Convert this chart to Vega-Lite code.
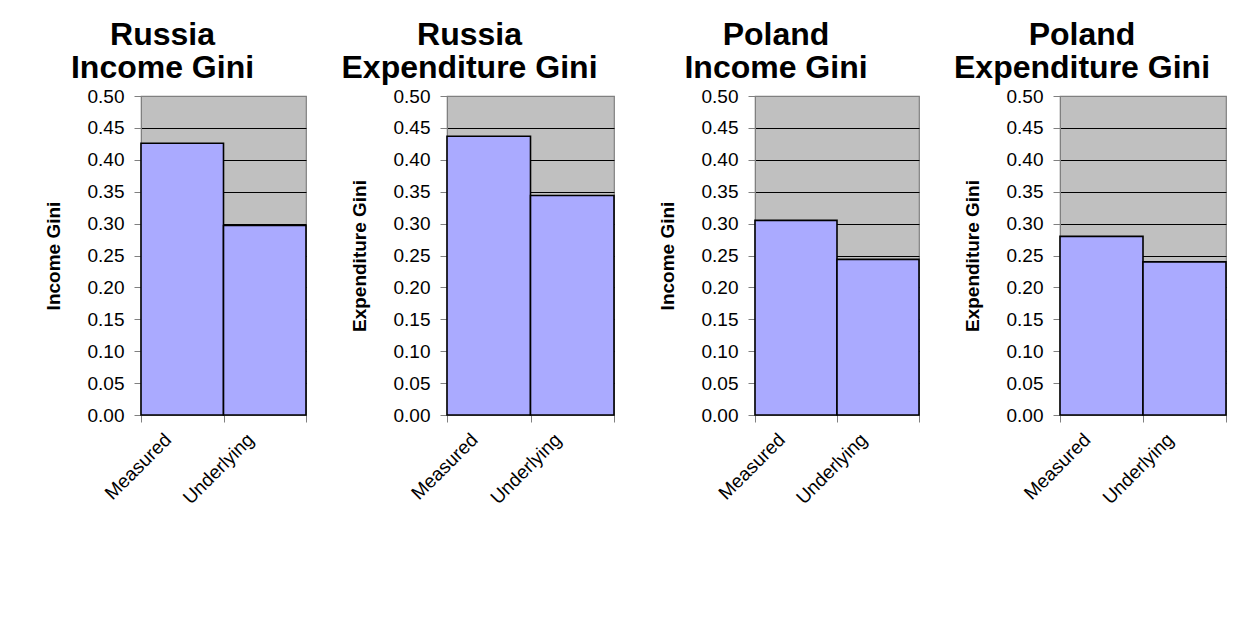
{
  "$schema": "https://vega.github.io/schema/vega-lite/v6.json",
  "padding": {"left": 43, "top": 18, "right": 0, "bottom": 0},
  "background": "white",
  "datasets": {
    "gini": [
      {"panel": "ru_inc", "measure": "Measured", "gini": 0.426},
      {"panel": "ru_inc", "measure": "Underlying", "gini": 0.297},
      {"panel": "ru_exp", "measure": "Measured", "gini": 0.437},
      {"panel": "ru_exp", "measure": "Underlying", "gini": 0.344},
      {"panel": "pl_inc", "measure": "Measured", "gini": 0.305},
      {"panel": "pl_inc", "measure": "Underlying", "gini": 0.244},
      {"panel": "pl_exp", "measure": "Measured", "gini": 0.28},
      {"panel": "pl_exp", "measure": "Underlying", "gini": 0.24}
    ]
  },
  "data": {"name": "gini"},
  "bounds": "flush",
  "spacing": 141,
  "hconcat": [
    {
      "title": {"text": ["Russia", "Income Gini"]},
      "width": 165,
      "height": 319,
      "transform": [{"filter": "datum.panel === 'ru_inc'"}],
      "mark": {"type": "bar", "fill": "#AAAAFF", "stroke": "black", "strokeWidth": 1.6},
      "encoding": {
        "x": {"field": "measure", "type": "nominal", "title": null},
        "y": {"field": "gini", "type": "quantitative", "title": "Income Gini", "scale": {"domain": [0, 0.5], "nice": false}}
      }
    },
    {
      "title": {"text": ["Russia", "Expenditure Gini"]},
      "width": 167,
      "height": 319,
      "transform": [{"filter": "datum.panel === 'ru_exp'"}],
      "mark": {"type": "bar", "fill": "#AAAAFF", "stroke": "black", "strokeWidth": 1.6},
      "encoding": {
        "x": {"field": "measure", "type": "nominal", "title": null},
        "y": {"field": "gini", "type": "quantitative", "title": "Expenditure Gini", "scale": {"domain": [0, 0.5], "nice": false}}
      }
    },
    {
      "title": {"text": ["Poland", "Income Gini"]},
      "width": 164,
      "height": 319,
      "transform": [{"filter": "datum.panel === 'pl_inc'"}],
      "mark": {"type": "bar", "fill": "#AAAAFF", "stroke": "black", "strokeWidth": 1.6},
      "encoding": {
        "x": {"field": "measure", "type": "nominal", "title": null},
        "y": {"field": "gini", "type": "quantitative", "title": "Income Gini", "scale": {"domain": [0, 0.5], "nice": false}}
      }
    },
    {
      "title": {"text": ["Poland", "Expenditure Gini"]},
      "width": 166,
      "height": 319,
      "transform": [{"filter": "datum.panel === 'pl_exp'"}],
      "mark": {"type": "bar", "fill": "#AAAAFF", "stroke": "black", "strokeWidth": 1.6},
      "encoding": {
        "x": {"field": "measure", "type": "nominal", "title": null},
        "y": {"field": "gini", "type": "quantitative", "title": "Expenditure Gini", "scale": {"domain": [0, 0.5], "nice": false}}
      }
    }
  ],
  "resolve": {"scale": {"y": "independent"}},
  "config": {
    "font": "Liberation Sans",
    "view": {"fill": "#C0C0C0", "stroke": "#808080", "strokeWidth": 1.2},
    "title": {
      "fontSize": 32,
      "fontWeight": "bold",
      "color": "black",
      "lineHeight": 33,
      "dx": -61,
      "offset": 2,
      "anchor": "middle"
    },
    "scale": {"bandPaddingInner": 0, "bandPaddingOuter": 0},
    "axisX": {
      "labelAngle": -45,
      "labelFontSize": 19,
      "labelColor": "black",
      "labelOffset": -21,
      "tickBand": "extent",
      "tickSize": 7,
      "tickColor": "#808080",
      "domainColor": "#808080",
      "labelPadding": 8,
      "grid": false
    },
    "axisY": {
      "values": [0, 0.05, 0.1, 0.15, 0.2, 0.25, 0.3, 0.35, 0.4, 0.45, 0.5],
      "format": ".2f",
      "labelFontSize": 19,
      "labelColor": "black",
      "labelPadding": 10,
      "tickSize": 7,
      "tickColor": "#808080",
      "domainColor": "#808080",
      "gridColor": {"condition": {"test": "datum.value >= 0.5", "value": "#808080"}, "value": "black"},
      "gridWidth": 1,
      "gridOpacity": 1,
      "minExtent": 58,
      "maxExtent": 58,
      "titleFontSize": 19,
      "titleFontWeight": "bold",
      "titleColor": "black",
      "titlePadding": 20
    }
  }
}
